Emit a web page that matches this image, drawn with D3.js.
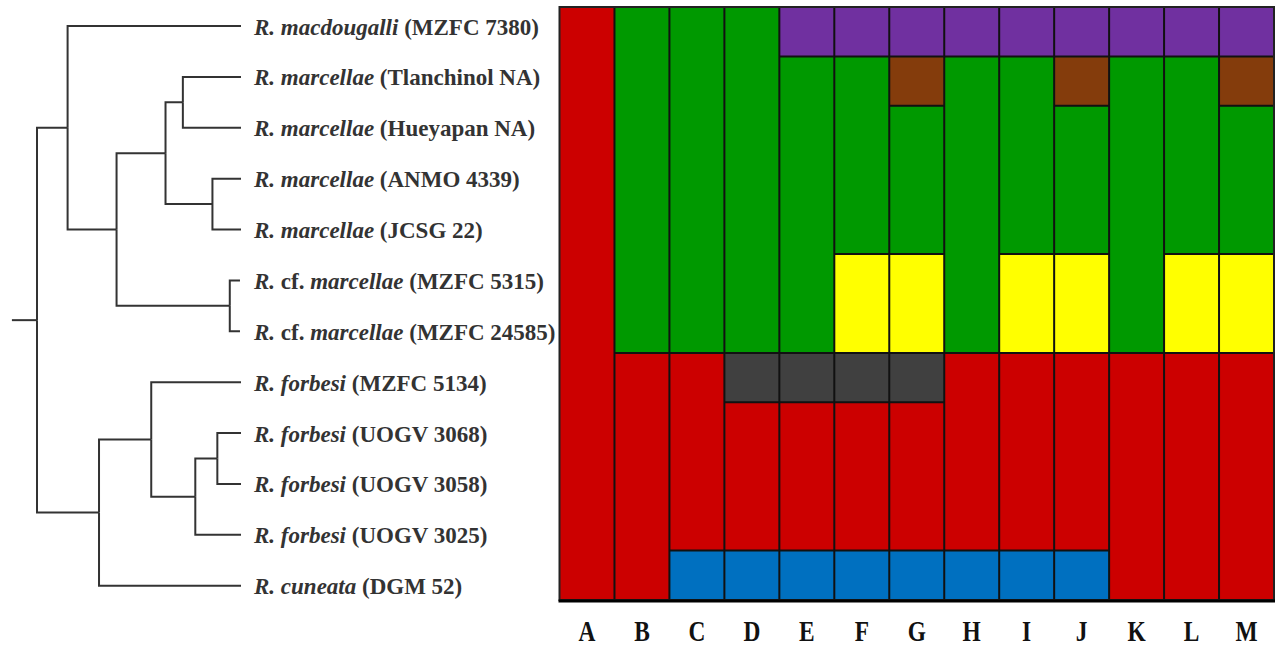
<!DOCTYPE html>
<html>
<head>
<meta charset="utf-8">
<script src="https://cdn.jsdelivr.net/npm/d3@7"></script>
<style>
  body { margin: 0; background: #fff; }
  svg { display: block; }
</style>
</head>
<body>
<div id="chart"></div>
<script>
let width = 1275,
    height = 648;

// taxa, top to bottom: epithet, qualifier, voucher
const taxa = [
  ["macdougalli", "", "(MZFC 7380)"],
  ["marcellae", "", "(Tlanchinol NA)"],
  ["marcellae", "", "(Hueyapan NA)"],
  ["marcellae", "", "(ANMO 4339)"],
  ["marcellae", "", "(JCSG 22)"],
  ["marcellae", "cf.", "(MZFC 5315)"],
  ["marcellae", "cf.", "(MZFC 24585)"],
  ["forbesi", "", "(MZFC 5134)"],
  ["forbesi", "", "(UOGV 3068)"],
  ["forbesi", "", "(UOGV 3058)"],
  ["forbesi", "", "(UOGV 3025)"],
  ["cuneata", "", "(DGM 52)"]
];

const characters = ["A","B","C","D","E","F","G","H","I","J","K","L","M"];

// character states, one string per taxon (r red, g green, p purple, b brown, y yellow, k grey, u blue)
const states = [
  "rgggppppppppp",
  "rgggggbggbggb",
  "rgggggggggggg",
  "rgggggggggggg",
  "rgggggggggggg",
  "rggggyygyygyy",
  "rggggyygyygyy",
  "rrrkkkkrrrrrr",
  "rrrrrrrrrrrrr",
  "rrrrrrrrrrrrr",
  "rrrrrrrrrrrrr",
  "rruuuuuuuurrr"
];

const stateKeys = ["r", "g", "p", "b", "y", "k", "u"];
const stateColors = ["#cc0000", "#009900", "#7030a0", "#843c0c", "#ffff00", "#404040", "#0070c0"];

// tree: h = node depth (root 0, tips 100), leaf = taxa index
const tree = {h: 0, children: [
  {h: 15, children: [
    {h: 100, leaf: 0},
    {h: 39, children: [
      {h: 63, children: [
        {h: 71.5, children: [{h: 100, leaf: 1}, {h: 100, leaf: 2}]},
        {h: 86, children: [{h: 100, leaf: 3}, {h: 100, leaf: 4}]}
      ]},
      {h: 94.5, children: [{h: 99.5, leaf: 5}, {h: 99.5, leaf: 6}]}
    ]}
  ]},
  {h: 30.4, children: [
    {h: 56, children: [
      {h: 100, leaf: 7},
      {h: 77.6, children: [
        {h: 88.4, children: [{h: 100, leaf: 8}, {h: 100, leaf: 9}]},
        {h: 100, leaf: 10}
      ]}
    ]},
    {h: 100, leaf: 11}
  ]}
]};
const rootStub = -12.3;

const svg = d3.select("#chart")
  .append("svg")
  .attr("width", width)
  .attr("height", height)
  .attr("viewBox", [0, 0, width, height]);

// ---- tree ----
let leafStep = 50.88;
let root = d3.hierarchy(tree);
d3.cluster()
  .size([leafStep * taxa.length, 1])
  .separation(() => 1)(root);

let hx = d3.scaleLinear().domain([0, 100]).range([37, 241]);
let ty = d => d.x + 26 - leafStep / 2;

let gTree = svg.append("g")
  .attr("fill", "none")
  .attr("stroke", "#333")
  .attr("stroke-width", 2);

gTree.selectAll("path")
  .data(root.links())
  .join("path")
  .attr("d", l => `M${hx(l.source.data.h)},${ty(l.source)}V${ty(l.target)}H${hx(l.target.data.h)}`);

gTree.append("path")
  .attr("d", `M${hx(rootStub)},${ty(root)}H${hx(root.data.h)}`);

let labels = svg.append("g")
  .attr("font-family", "'Liberation Serif', 'Times New Roman', serif")
  .attr("font-weight", "bold")
  .attr("font-size", 23)
  .attr("fill", "#333");

for (let leaf of root.leaves()) {
  let t = taxa[leaf.data.leaf];
  let txt = labels.append("text")
    .attr("x", hx(100) + 13)
    .attr("y", ty(leaf) + 8.5);
  txt.append("tspan").attr("font-style", "italic").text("R.");
  if (t[1]) txt.append("tspan").text(" " + t[1]);
  txt.append("tspan").attr("font-style", "italic").text(" " + t[0]);
  txt.append("tspan").text(" " + t[2]);
}

// ---- character matrix ----
let x = d3.scaleBand()
  .domain(characters)
  .range([559.5, 1274]);

let y = d3.scaleBand()
  .domain(d3.range(taxa.length))
  .range([7, 600]);

let color = d3.scaleOrdinal(stateKeys, stateColors);

let cells = [];
states.forEach((row, i) => {
  characters.forEach((c, j) => cells.push({row: i, col: c, j: j, s: row[j]}));
});

let grid = svg.append("g");

grid.selectAll("rect")
  .data(cells)
  .join("rect")
  .attr("x", d => x(d.col))
  .attr("y", d => y(d.row))
  .attr("width", x.bandwidth())
  .attr("height", y.bandwidth())
  .attr("fill", d => color(d.s))
  .attr("shape-rendering", "crispEdges");

// vertical separators between every character
grid.selectAll("line.v")
  .data(characters.slice(1))
  .join("line")
  .attr("class", "v")
  .attr("x1", d => x(d)).attr("x2", d => x(d))
  .attr("y1", y.range()[0]).attr("y2", y.range()[1])
  .attr("stroke", "#111")
  .attr("stroke-width", 2);

// horizontal separators only where the state changes
let changes = cells.filter(d => d.row > 0 && states[d.row - 1][d.j] !== d.s);
grid.selectAll("line.h")
  .data(changes)
  .join("line")
  .attr("class", "h")
  .attr("x1", d => x(d.col)).attr("x2", d => x(d.col) + x.bandwidth())
  .attr("y1", d => y(d.row)).attr("y2", d => y(d.row))
  .attr("stroke", "#111")
  .attr("stroke-width", 2);

// frame
grid.append("rect")
  .attr("x", x.range()[0])
  .attr("y", y.range()[0])
  .attr("width", x.range()[1] - x.range()[0])
  .attr("height", y.range()[1] - y.range()[0])
  .attr("fill", "none")
  .attr("stroke", "#222")
  .attr("stroke-width", 2);

grid.append("line")
  .attr("x1", x.range()[0] - 1).attr("x2", x.range()[1] + 1)
  .attr("y1", y.range()[1] + 1).attr("y2", y.range()[1] + 1)
  .attr("stroke", "#000")
  .attr("stroke-width", 3);

// character letters
svg.append("g")
  .selectAll("text")
  .data(characters)
  .join("text")
  .attr("transform", d => `translate(${x(d) + x.bandwidth() / 2},641) scale(0.78,1)`)
  .attr("text-anchor", "middle")
  .attr("font-family", "'Liberation Serif', 'Times New Roman', serif")
  .attr("font-weight", "bold")
  .attr("font-size", 30)
  .attr("fill", "#111")
  .text(d => d);
</script>
</body>
</html>
